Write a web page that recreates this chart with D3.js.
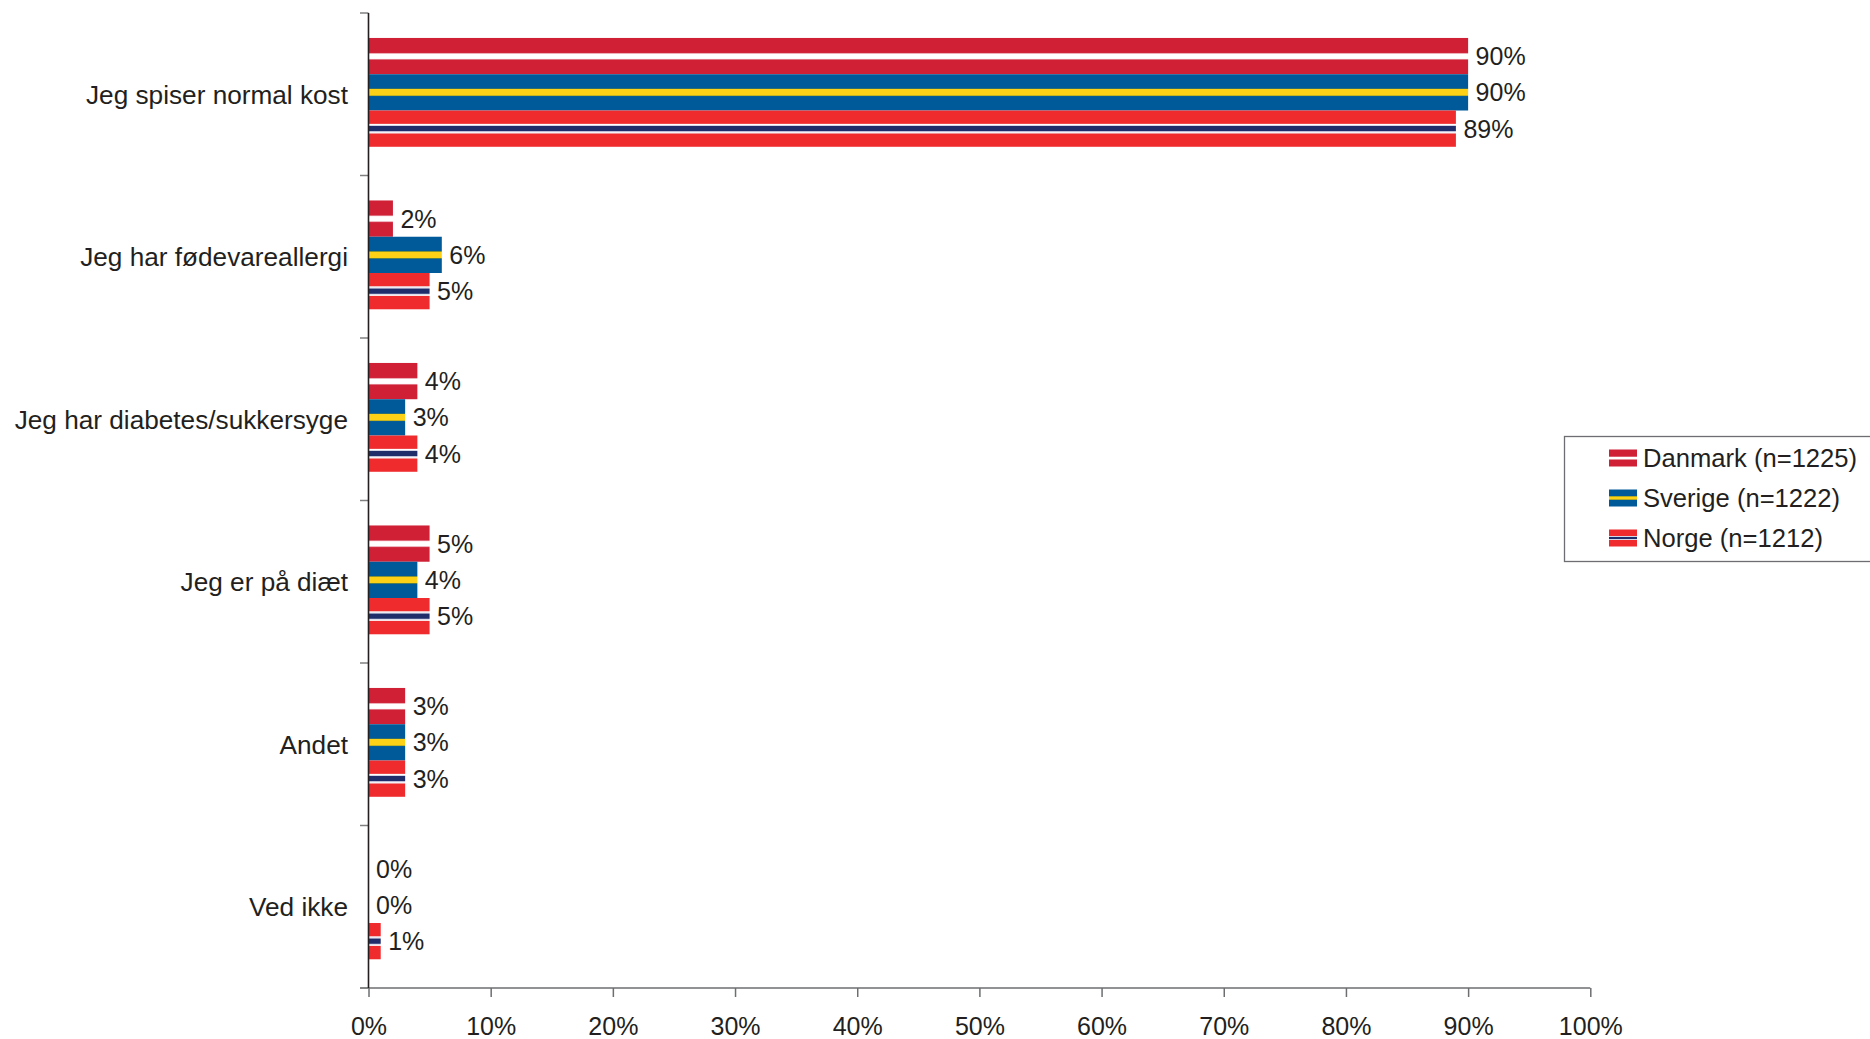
<!DOCTYPE html>
<html>
<head>
<meta charset="utf-8">
<script src="https://cdn.jsdelivr.net/npm/d3@7"></script>
<style>
  html, body { margin: 0; padding: 0; background: #fff; }
  svg { display: block; font-family: "Liberation Sans", Arial, sans-serif; }
</style>
</head>
<body>
<svg id="chart" width="1870" height="1039"></svg>
<script>
// Survey answers: diet / dietary needs, share of respondents per country
const categories = [
  "Jeg spiser normal kost",
  "Jeg har fødevareallergi",
  "Jeg har diabetes/sukkersyge",
  "Jeg er på diæt",
  "Andet",
  "Ved ikke"
];
const seriesNames = ["Danmark (n=1225)", "Sverige (n=1222)", "Norge (n=1212)"];
const danmark = [90, 2, 4, 5, 3, 0];
const sverige = [90, 6, 3, 4, 3, 0];
const norge   = [89, 5, 4, 5, 3, 1];
const xTicks = [0, 10, 20, 30, 40, 50, 60, 70, 80, 90, 100];

const seriesValues = [danmark, sverige, norge];
const seriesKeys = ["dk", "se", "no"];

const svg = d3.select("#chart");
const textColor = "#231f20";
const fontSize = 25;

// Flag-style fills: horizontal stripes across each bar's height
const defs = svg.append("defs");
const flagStops = {
  dk: [
    [0.00, "#cf2036"], [0.40, "#cf2036"], [0.425, "#e9a0aa"], [0.445, "#ffffff"],
    [0.565, "#ffffff"], [0.585, "#e9a0aa"], [0.61, "#cf2036"], [1.00, "#cf2036"]
  ],
  se: [
    [0.00, "#005a99"], [0.385, "#005a99"], [0.405, "#6f8a3a"], [0.42, "#fcd116"],
    [0.58, "#fcd116"], [0.595, "#6f8a3a"], [0.615, "#005a99"], [1.00, "#005a99"]
  ],
  no: [
    [0.00, "#ef2b2d"], [0.355, "#ef2b2d"], [0.37, "#f3b5b8"], [0.385, "#ffffff"],
    [0.42, "#c9cce0"], [0.44, "#1f2e6b"], [0.56, "#1f2e6b"], [0.58, "#c9cce0"],
    [0.615, "#ffffff"], [0.63, "#f3b5b8"], [0.645, "#ef2b2d"], [1.00, "#ef2b2d"]
  ]
};
Object.entries(flagStops).forEach(([key, stops]) => {
  const g = defs.append("linearGradient")
    .attr("id", "flag-" + key)
    .attr("x1", 0).attr("y1", 0).attr("x2", 0).attr("y2", 1);
  stops.forEach(([o, c]) => g.append("stop").attr("offset", o).attr("stop-color", c));
});

const x = d3.scaleLinear().domain([0, 100]).range([368.5, 1590.3]);
const y0 = d3.scaleBand().domain(categories).range([13, 988]).paddingInner(0).paddingOuter(0);
const y1 = d3.scaleBand().domain(seriesKeys).range([0, y0.bandwidth()])
  .paddingInner(0).paddingOuter(0.74).align(0.465);

// Bars
const groups = svg.append("g").selectAll("g")
  .data(categories)
  .join("g")
  .attr("transform", d => `translate(0,${y0(d)})`);

groups.selectAll("rect")
  .data((d, i) => seriesKeys.map((k, s) => ({ key: k, value: seriesValues[s][i] })))
  .join("rect")
  .attr("x", x(0))
  .attr("y", d => y1(d.key))
  .attr("width", d => x(d.value) - x(0))
  .attr("height", y1.bandwidth())
  .attr("fill", d => `url(#flag-${d.key})`);

groups.selectAll("text")
  .data((d, i) => seriesKeys.map((k, s) => ({ key: k, value: seriesValues[s][i] })))
  .join("text")
  .attr("x", d => x(d.value) + 7.5)
  .attr("y", d => y1(d.key) + y1.bandwidth() / 2)
  .attr("dy", "0.36em")
  .attr("font-size", fontSize)
  .attr("fill", textColor)
  .text(d => d.value + "%");

// X axis
const xAxis = svg.append("g")
  .attr("transform", "translate(0,988)")
  .call(d3.axisBottom(x).tickValues(xTicks).tickSize(9).tickPadding(20)
    .tickFormat(d => d + "%"));
xAxis.select(".domain").remove();
xAxis.selectAll(".tick line").attr("stroke", "#6d6e71").attr("stroke-width", 1.5);
xAxis.selectAll(".tick text").attr("font-size", fontSize).attr("fill", textColor)
  .attr("font-family", "Liberation Sans, Arial, sans-serif");
svg.append("line")
  .attr("x1", 360).attr("x2", x(100)).attr("y1", 988).attr("y2", 988)
  .attr("stroke", "#6d6e71").attr("stroke-width", 1.5);

// Y axis: ticks on category boundaries
const boundaries = categories.map(c => y0(c)).concat([y0.range()[1]]);
svg.append("g").selectAll("line")
  .data(boundaries)
  .join("line")
  .attr("x1", 360).attr("x2", x(0))
  .attr("y1", d => d).attr("y2", d => d)
  .attr("stroke", "#808080").attr("stroke-width", 1.5);
svg.append("line")
  .attr("x1", x(0)).attr("x2", x(0))
  .attr("y1", y0.range()[0]).attr("y2", 988)
  .attr("stroke", "#231f20").attr("stroke-width", 1.6);

svg.append("g").selectAll("text")
  .data(categories)
  .join("text")
  .attr("x", 348)
  .attr("y", d => y0(d) + y0.bandwidth() / 2)
  .attr("dy", "0.36em")
  .attr("text-anchor", "end")
  .attr("font-size", 26.2)
  .attr("fill", textColor)
  .text(d => d);

// Legend
const legend = svg.append("g");
legend.append("rect")
  .attr("x", 1564.5).attr("y", 436.5)
  .attr("width", 320).attr("height", 125)
  .attr("fill", "#fff").attr("stroke", "#6d6e71").attr("stroke-width", 1.3);
const ly = d3.scalePoint().domain(seriesKeys).range([458, 538]);
const items = legend.selectAll("g.item")
  .data(seriesKeys.map((k, i) => ({ key: k, name: seriesNames[i] })))
  .join("g")
  .attr("class", "item")
  .attr("transform", d => `translate(0,${ly(d.key)})`);
items.append("rect")
  .attr("x", 1609).attr("y", -8.5)
  .attr("width", 28).attr("height", 17)
  .attr("fill", d => `url(#flag-${d.key})`);
items.append("text")
  .attr("x", 1643).attr("y", 0).attr("dy", "0.36em")
  .attr("font-size", 25.6).attr("fill", textColor)
  .text(d => d.name);
</script>
</body>
</html>
